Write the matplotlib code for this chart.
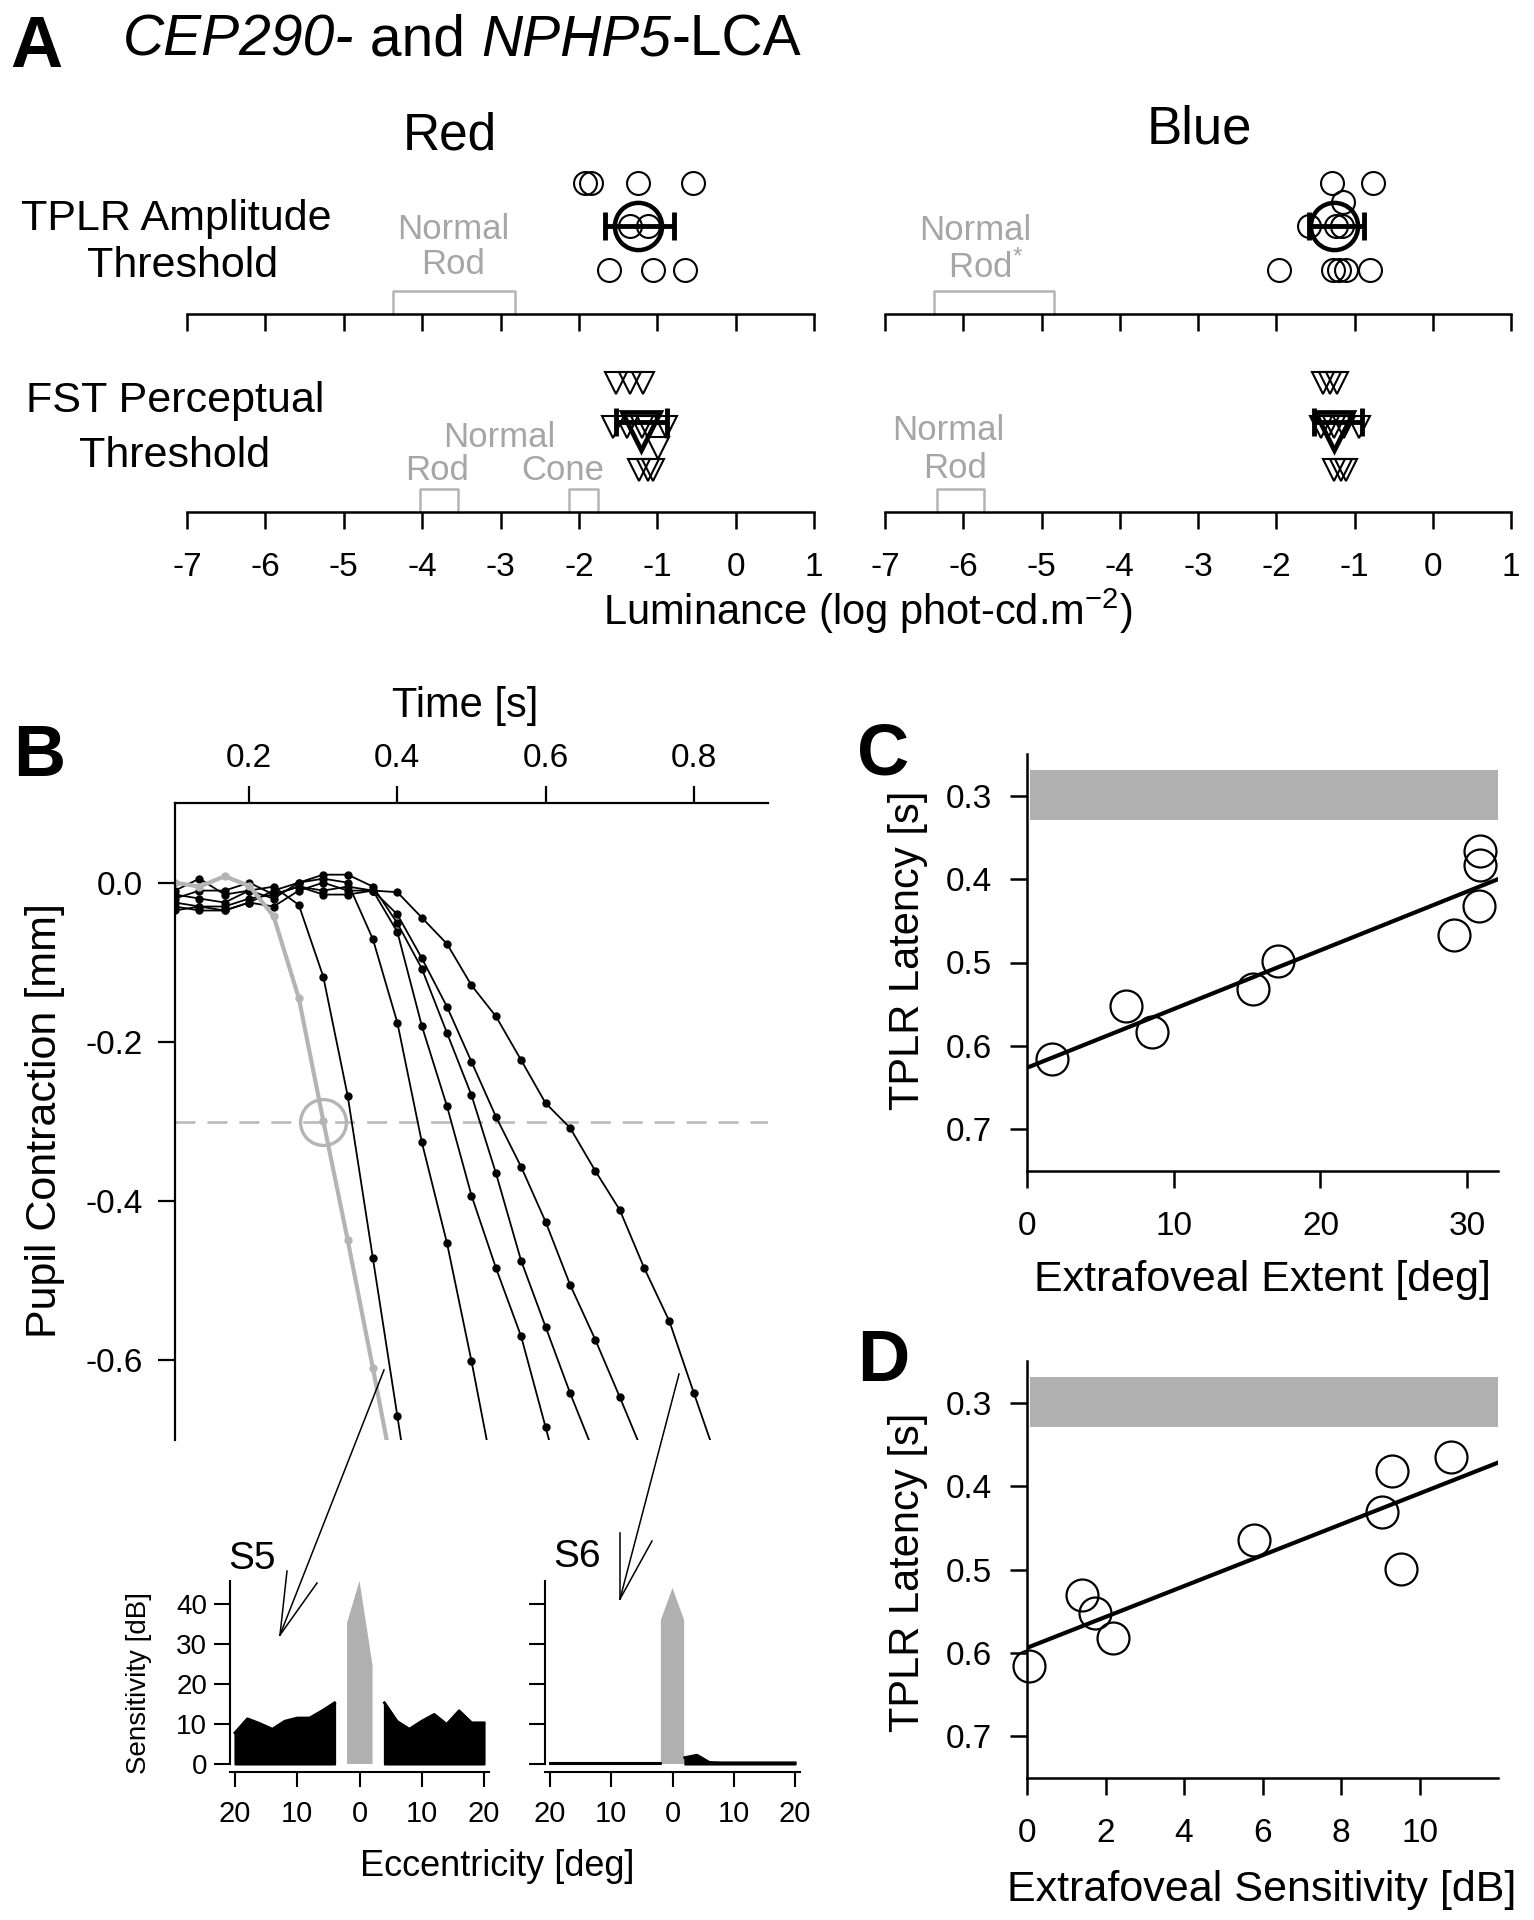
import numpy as np
import matplotlib
matplotlib.use("Agg")
import matplotlib.pyplot as plt
from matplotlib.lines import Line2D

plt.rcParams['font.family'] = ['Liberation Sans', 'DejaVu Sans']
plt.rcParams['mathtext.fontset'] = 'custom'
plt.rcParams['mathtext.rm'] = 'Liberation Sans'
plt.rcParams['mathtext.it'] = 'Liberation Sans:italic'
plt.rcParams['axes.unicode_minus'] = False

# ---------- data ----------
# A: thresholds (log phot-cd/m2); each list is one row of the stacked dot plot
red_tplr_rows = [[-1.92, -1.85, -1.24, -0.55], [-1.35, -1.12], [-1.62, -1.05, -0.65]]
red_tplr_mean, red_tplr_lo, red_tplr_hi = -1.24, -1.67, -0.79
blue_tplr_rows = [[-1.29, -0.76], [-1.15], [-1.58, -1.24, -1.16], [-1.97, -1.28, -1.20, -1.11, -0.80]]
blue_tplr_mean, blue_tplr_lo, blue_tplr_hi = -1.26, -1.58, -0.88
red_fst_rows = [[-1.52, -1.35, -1.18], [-1.57, -1.39, -1.19, -1.12, -0.89], [-0.99], [-1.23, -1.12, -1.05]]
red_fst_mean, red_fst_lo, red_fst_hi = -1.21, -1.52, -0.88
blue_fst_rows = [[-1.40, -1.31, -1.23], [-1.43, -1.34, -1.26, -1.14, -0.94], [-1.26, -1.17, -1.11]]
blue_fst_mean, blue_fst_lo, blue_fst_hi = -1.26, -1.52, -0.91
# normal ranges
red_tplr_rod = [-4.37, -2.82]
blue_tplr_rod = [-6.38, -4.84]
red_fst_rod = [-4.03, -3.54]
red_fst_cone = [-2.12, -1.76]
blue_fst_rod = [-6.34, -5.74]
lum_ticks = [-7, -6, -5, -4, -3, -2, -1, 0, 1]

# B: pupil traces (mm) sampled every 1/30 s
b_time = [0.100, 0.133, 0.167, 0.200, 0.233, 0.267, 0.300, 0.333, 0.367, 0.400,
          0.433, 0.467, 0.500, 0.533, 0.567, 0.600, 0.633, 0.667, 0.700, 0.733,
          0.767, 0.800, 0.833]
gray_trace = [0.000, -0.005, 0.008, -0.004, -0.042, -0.145, -0.299, -0.449, -0.610, -0.770]
black_traces = [
    [-0.015, -0.020, -0.025, -0.010, -0.005, -0.028, -0.118, -0.268, -0.472, -0.670, -0.870],
    [-0.030, -0.035, -0.035, -0.025, -0.010, 0.000, 0.005, 0.000, -0.071, -0.176, -0.326,
     -0.453, -0.601, -0.760],
    [-0.020, -0.010, -0.010, 0.000, -0.015, -0.005, -0.015, -0.015, -0.010, -0.062, -0.180,
     -0.281, -0.393, -0.484, -0.570, -0.684, -0.800],
    [-0.010, 0.005, -0.015, -0.010, -0.020, 0.000, 0.010, 0.010, -0.005, -0.051, -0.108,
     -0.189, -0.267, -0.365, -0.475, -0.558, -0.641, -0.720],
    [-0.025, -0.030, -0.030, -0.020, -0.015, -0.005, -0.010, -0.005, -0.010, -0.040, -0.095,
     -0.156, -0.225, -0.294, -0.357, -0.426, -0.505, -0.574, -0.646, -0.720],
    [-0.035, -0.030, -0.035, -0.025, -0.030, -0.010, 0.000, -0.010, -0.010, -0.012, -0.044,
     -0.077, -0.129, -0.168, -0.223, -0.277, -0.308, -0.362, -0.411, -0.484, -0.551,
     -0.641, -0.730],
]
criterion = -0.3
crit_time = 0.3
time_ticks = [0.2, 0.4, 0.6, 0.8]
contr_ticks = [0.0, -0.2, -0.4, -0.6]

# B insets: static perimetry sensitivity (dB) vs eccentricity
s5_ecc_l = [-20, -18, -16, -14, -12, -10, -8, -6, -4]
s5_sens_l = [7.8, 11.3, 10.1, 8.7, 10.7, 11.5, 11.5, 13.3, 15.3]
s5_ecc_r = [4, 6, 8, 10, 12, 14, 16, 18, 20]
s5_sens_r = [15.3, 10.7, 8.7, 10.7, 12.4, 9.9, 13.3, 10.3, 10.3]
s6_ecc_l = [-20, -16, -12, -8, -4, -2]
s6_sens_l = [0.3, 0.3, 0.3, 0.3, 0.3, 0.3]
s6_ecc_r = [2, 4, 6, 8, 12, 16, 20]
s6_sens_r = [1.6, 2.2, 0.4, 0.3, 0.3, 0.3, 0.3]
s5_fovea_x = [-2.0, -2.0, 0.0, 2.1, 2.1]
s5_fovea_y = [0, 35.3, 45.8, 24.6, 0]
s6_fovea_x = [-1.9, -1.9, 0.0, 1.9, 1.9]
s6_fovea_y = [0, 36.0, 44.0, 36.0, 0]
ecc_ticks = [-20, -10, 0, 10, 20]
ecc_labels = ['20', '10', '0', '10', '20']
sens_ticks = [0, 10, 20, 30, 40]

# C, D: TPLR latency
latency = [0.6157, 0.5526, 0.583, 0.532, 0.4986, 0.467, 0.432, 0.383, 0.366]
extent = [1.7, 6.75, 8.55, 15.4, 17.1, 29.1, 30.8, 30.9, 30.9]
d_sens = [0.06, 1.41, 1.74, 2.2, 5.79, 9.04, 9.29, 9.52, 10.81]
d_latency = [0.6156, 0.531, 0.552, 0.582, 0.4648, 0.4313, 0.3815, 0.4995, 0.365]
normal_lat_lo, normal_lat_hi = 0.269, 0.329
lat_ticks = [0.3, 0.4, 0.5, 0.6, 0.7]

# ---------- figure ----------
W, H = 1534, 1920
fig = plt.figure(figsize=(W / 100, H / 100), dpi=100)
renderer = fig.canvas.get_renderer()
GRAY = '#a6a6a6'


def px_axes(l, t, r, b):
    return fig.add_axes([l / W, 1 - b / H, (r - l) / W, (b - t) / H])


def ftext(x, y, s, **kw):
    return fig.text(x / W, 1 - y / H, s, **kw)


def fline(x, y, **kw):
    fig.add_artist(Line2D([v / W for v in x], [1 - v / H for v in y],
                          transform=fig.transFigure, color='k', lw=1.1, **kw))


# ---------- Panel A ----------
def lum_axis(l, axis_y, r, labels):
    ax = px_axes(l, axis_y - 160, r, axis_y)
    ax.set_xlim(-7, 1)
    ax.set_ylim(0, 160)
    for s in ['top', 'right', 'left']:
        ax.spines[s].set_visible(False)
    ax.spines['bottom'].set_linewidth(1.8)
    ax.set_yticks([])
    ax.set_xticks(lum_ticks)
    ax.tick_params(axis='x', length=12, width=1.8, pad=17, labelsize=24)
    if labels:
        ax.set_xticklabels([str(v) for v in lum_ticks])
    else:
        ax.set_xticklabels([])
    ax.patch.set_visible(False)
    return ax


def bracket(ax, rng):
    ax.plot([rng[0], rng[0], rng[1], rng[1]], [0, 23, 23, 0], color='#b4b4b4',
            lw=1.8, clip_on=False)


def circles(ax, rows, ys, mean, lo, hi, ymean):
    for vals, y in zip(rows, ys):
        ax.plot(vals, [y] * len(vals), 'o', ms=16.5, mfc='none', mec='k', mew=1.5,
                clip_on=False)
    ax.plot(mean, ymean, 'o', ms=34, mfc='none', mec='k', mew=3.2, clip_on=False)
    ax.errorbar(mean, ymean, xerr=[[mean - lo], [hi - mean]], fmt='none', ecolor='k',
                elinewidth=3.5, capsize=10, capthick=3.5, clip_on=False)


def triangles(ax, rows, ys, mean, lo, hi):
    for vals, y in zip(rows, ys):
        ax.plot(vals, [y] * len(vals), 'v', ms=15.5, mfc='none', mec='k', mew=1.5,
                clip_on=False)
    ax.plot(mean, 81, 'v', ms=27, mfc='none', mec='k', mew=3.4, clip_on=False)
    ax.errorbar(mean, 90, xerr=[[mean - lo], [hi - mean]], fmt='none', ecolor='k',
                elinewidth=3.5, capsize=10, capthick=3.5, clip_on=False)


axRT = lum_axis(187, 314, 814, False)
circles(axRT, red_tplr_rows, [131, 88, 44], red_tplr_mean, red_tplr_lo, red_tplr_hi, 88)
bracket(axRT, red_tplr_rod)
axRT.text(-3.6, 75, 'Normal', color=GRAY, fontsize=25, ha='center', va='baseline')
axRT.text(-3.6, 40, 'Rod', color=GRAY, fontsize=25, ha='center', va='baseline')

axBT = lum_axis(885, 314, 1511, False)
circles(axBT, blue_tplr_rows, [131, 112, 88, 44], blue_tplr_mean, blue_tplr_lo,
        blue_tplr_hi, 88)
bracket(axBT, blue_tplr_rod)
axBT.text(-5.85, 74, 'Normal', color=GRAY, fontsize=25, ha='center', va='baseline')
axBT.text(-5.72, 36, 'Rod$^{*}$', color=GRAY, fontsize=25, ha='center', va='baseline')

axRF = lum_axis(187, 512, 814, True)
triangles(axRF, red_fst_rows, [129, 85, 64, 42], red_fst_mean, red_fst_lo, red_fst_hi)
bracket(axRF, red_fst_rod)
bracket(axRF, red_fst_cone)
axRF.text(-3.01, 65, 'Normal', color=GRAY, fontsize=25, ha='center', va='baseline')
axRF.text(-3.81, 32, 'Rod', color=GRAY, fontsize=25, ha='center', va='baseline')
axRF.text(-2.20, 32, 'Cone', color=GRAY, fontsize=25, ha='center', va='baseline')

axBF = lum_axis(885, 512, 1511, True)
triangles(axBF, blue_fst_rows, [129, 85, 42], blue_fst_mean, blue_fst_lo, blue_fst_hi)
bracket(axBF, blue_fst_rod)
axBF.text(-6.19, 72, 'Normal', color=GRAY, fontsize=25, ha='center', va='baseline')
axBF.text(-6.10, 34, 'Rod', color=GRAY, fontsize=25, ha='center', va='baseline')

ftext(10, 67, 'A', fontsize=52, fontweight='bold', ha='left', va='baseline')
# title with italic gene names, written piece by piece
x_cursor = 123
for piece, style in [('CEP290-', 'italic'), (' and ', 'normal'), ('NPHP5', 'italic'),
                     ('-LCA', 'normal')]:
    t = ftext(x_cursor, 55, piece, fontsize=41, style=style, ha='left', va='baseline')
    x_cursor = t.get_window_extent(renderer).x1
ftext(450, 150, 'Red', fontsize=37, ha='center', va='baseline')
ftext(1199, 143, 'Blue', fontsize=38, ha='center', va='baseline')
ftext(176, 230, 'TPLR Amplitude', fontsize=31, ha='center', va='baseline')
ftext(183, 277, 'Threshold', fontsize=31, ha='center', va='baseline')
ftext(175, 412, 'FST Perceptual', fontsize=31, ha='center', va='baseline')
ftext(175, 467, 'Threshold', fontsize=31, ha='center', va='baseline')
ftext(868, 625, 'Luminance (log phot-cd.m$^{-2}$)', fontsize=30, ha='center',
      va='baseline')

# ---------- Panel B ----------
axB = px_axes(175, 803, 768, 1440)
axB.set_xlim(0.1, 0.9)
axB.set_ylim(-0.7, 0.1)
for s in ['bottom', 'right']:
    axB.spines[s].set_visible(False)
for s in ['top', 'left']:
    axB.spines[s].set_linewidth(1.6)
axB.xaxis.tick_top()
axB.set_xticks(time_ticks)
axB.set_xticklabels(['%.1f' % v for v in time_ticks])
axB.set_yticks(contr_ticks)
axB.set_yticklabels(['0.0', '-0.2', '-0.4', '-0.6'])
axB.tick_params(length=12, width=1.6, labelsize=24)
axB.tick_params(axis='x', pad=9)
axB.tick_params(axis='y', pad=11)
axB.axhline(criterion, color='#bdbdbd', lw=2, dashes=(7.2, 4.3))
for tr in black_traces:
    axB.plot(b_time[:len(tr)], tr, '-o', color='k', lw=1.3, ms=5)
axB.plot(b_time[:len(gray_trace)], gray_trace, '-o', color='#b4b4b4', lw=3, ms=5)
axB.plot(crit_time, criterion, 'o', ms=33, mfc='none', mec='#b4b4b4', mew=2.4)

ftext(13, 776, 'B', fontsize=52, fontweight='bold', ha='left', va='baseline')
ftext(465, 717, 'Time [s]', fontsize=30, ha='center', va='baseline')
ftext(45, 1120, 'Pupil Contraction [mm]', fontsize=31, rotation=90, ha='center',
      va='center')


# insets
def inset(l, r, ecc_l, sens_l, ecc_r, sens_r, fx, fy, ylabels):
    ax = px_axes(l, 1581, r, 1772)
    ax.set_xlim(-20.8, 20.8)
    ax.set_ylim(-2, 45.75)
    for s in ['top', 'right']:
        ax.spines[s].set_visible(False)
    ax.spines['left'].set_bounds(0, 45.75)
    ax.spines['left'].set_linewidth(1.5)
    ax.spines['bottom'].set_linewidth(1.5)
    ax.fill_between(ecc_l, 0, sens_l, color='k', lw=1.5)
    ax.fill_between(ecc_r, 0, sens_r, color='k', lw=1.5)
    ax.plot(ecc_l, sens_l, color='k', lw=2)
    ax.plot(ecc_r, sens_r, color='k', lw=2)
    ax.fill(fx, fy, color='#b0b0b0', lw=0)
    ax.set_xticks(ecc_ticks)
    ax.set_xticklabels(ecc_labels)
    ax.set_yticks(sens_ticks)
    ax.tick_params(axis='x', length=11, width=1.5, labelsize=21, pad=9)
    ax.tick_params(axis='y', length=11.5, width=1.5, labelsize=20, pad=5)
    if not ylabels:
        ax.set_yticklabels([])
    return ax


inset(230, 489, s5_ecc_l, s5_sens_l, s5_ecc_r, s5_sens_r, s5_fovea_x, s5_fovea_y, True)
inset(545, 800, s6_ecc_l, s6_sens_l, s6_ecc_r, s6_sens_r, s6_fovea_x, s6_fovea_y, False)
ftext(228, 1569, 'S5', fontsize=28, ha='left', va='baseline')
ftext(553, 1567, 'S6', fontsize=28, ha='left', va='baseline')
ftext(139, 1683, 'Sensitivity [dB]', fontsize=20, rotation=90, ha='center', va='center')
ftext(497, 1876, 'Eccentricity [deg]', fontsize=26, ha='center', va='baseline')

# arrows from traces to insets
fline([384, 280], [1370, 1635])
fline([280, 287], [1635, 1571])
fline([280, 317], [1635, 1583])
fline([679, 620], [1374, 1599])
fline([620, 620], [1599, 1533])
fline([620, 652], [1599, 1541])


# ---------- Panels C and D ----------
def latency_axes(t, b, x, y, xmax, xticks, xlabel, letter, label_y, xlab_y, letter_y):
    ax = px_axes(1027, t, 1498, b)
    ax.set_xlim(0, xmax)
    ax.set_ylim(0.75, 0.25)
    for s in ['top', 'right']:
        ax.spines[s].set_visible(False)
    for s in ['left', 'bottom']:
        ax.spines[s].set_linewidth(1.8)
    ax.axhspan(normal_lat_lo, normal_lat_hi, xmin=0.006, xmax=1, color='#b0b0b0', lw=0)
    slope, icpt = np.polyfit(x, y, 1)
    xs = np.array([0, xmax])
    ax.plot(xs, icpt + slope * xs, color='k', lw=3)
    ax.plot(x, y, 'o', ms=23, mfc='none', mec='k', mew=1.6, clip_on=False)
    ax.set_xticks(xticks)
    ax.set_xticklabels([str(v) for v in xticks])
    ax.set_yticks(lat_ticks)
    ax.set_yticklabels(['%.1f' % v for v in lat_ticks])
    ax.tick_params(length=12, width=1.8, labelsize=24)
    ax.tick_params(axis='x', pad=17)
    ax.tick_params(axis='y', pad=13)
    ftext(857, letter_y, letter, fontsize=52, fontweight='bold', ha='left', va='baseline')
    ftext(908, label_y, 'TPLR Latency [s]', fontsize=30, rotation=90, ha='center',
          va='center')
    ftext(1262, xlab_y, xlabel, fontsize=31, ha='center', va='baseline')
    return ax


latency_axes(754, 1171, extent, latency, 32.1, [0, 10, 20, 30],
             'Extrafoveal Extent [deg]', 'C', 950, 1291, 775)
latency_axes(1361, 1778, d_sens, d_latency, 12, [0, 2, 4, 6, 8, 10],
             'Extrafoveal Sensitivity [dB]', 'D', 1572, 1901, 1381)

fig.savefig('out.png', dpi=100)
